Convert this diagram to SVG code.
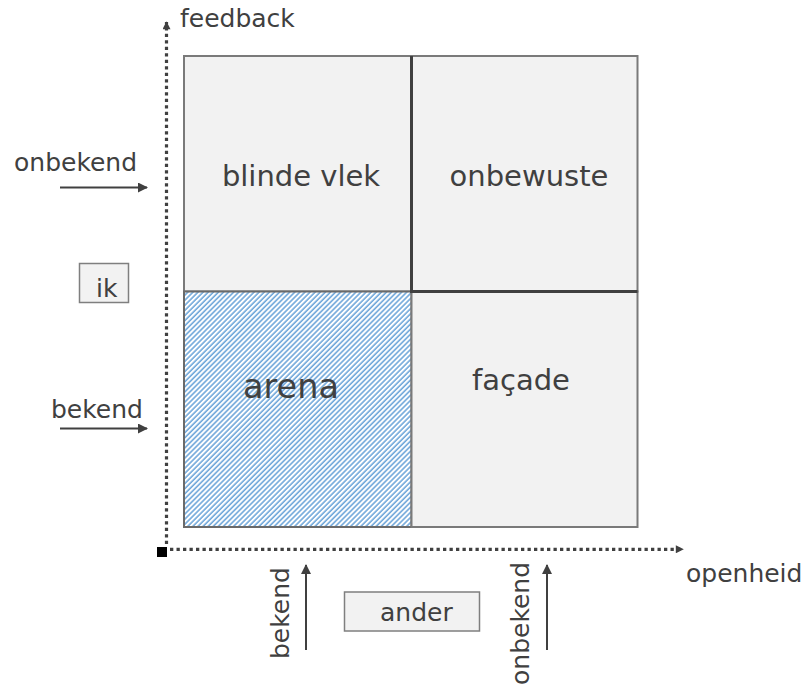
<svg xmlns="http://www.w3.org/2000/svg" width="809" height="688" viewBox="0 0 809 688">
<defs>
<pattern id="hatch" width="3.6" height="3.6" patternUnits="userSpaceOnUse" patternTransform="rotate(45)">
<rect width="3.6" height="3.6" fill="#ffffff"/>
<line x1="1" y1="0" x2="1" y2="3.6" stroke="#5b9bd5" stroke-width="1.4"/>
</pattern>
<marker id="ah" viewBox="0 0 10 10" refX="9" refY="5" markerWidth="10" markerHeight="10" markerUnits="userSpaceOnUse" orient="auto">
<path d="M0,0 L10,5 L0,10 Z" fill="#404040"/>
</marker>
<marker id="ahs" viewBox="0 0 10 10" refX="9" refY="5" markerWidth="9" markerHeight="8" markerUnits="userSpaceOnUse" orient="auto">
<path d="M0,0 L10,5 L0,10 Z" fill="#404040"/>
</marker>
</defs>
<style>
text{font-family:"DejaVu Sans","Liberation Sans",sans-serif;fill:#404040}
.lbl{font-size:25px}
.q{font-size:29px;text-anchor:middle}
.cell{fill:#f2f2f2;stroke:#7a7a7a;stroke-width:2}
.div{stroke:#404040;stroke-width:3}
.box{fill:#f2f2f2;stroke:#7f7f7f;stroke-width:1.5}
.axis{stroke:#404040;stroke-width:3.2;stroke-dasharray:3.3 3.2;fill:none}
.arr{stroke:#404040;stroke-width:2;fill:none}
</style>

<g id="quadrant-blinde-vlek">
<rect class="cell" x="184" y="56" width="227.5" height="235.5"/>
<text class="q" x="301" y="186">blinde vlek</text>
</g>
<g id="quadrant-onbewuste">
<rect class="cell" x="411.5" y="56" width="226" height="235.5"/>
<text class="q" x="529" y="186">onbewuste</text>
</g>
<g id="quadrant-arena">
<rect x="184" y="291.5" width="227.5" height="235.5" fill="url(#hatch)" stroke="#6a6a6a" stroke-width="2"/>
<text x="291" y="398" style="font-size:33.5px;text-anchor:middle">arena</text>
</g>
<g id="quadrant-facade">
<rect class="cell" x="411.5" y="291.5" width="226" height="235.5"/>
<text class="q" x="521" y="390">façade</text>
</g>

<g id="dividers">
<line class="div" x1="411.5" y1="56" x2="411.5" y2="293"/>
<line class="div" x1="410" y1="291.5" x2="637.5" y2="291.5"/>
</g>

<g id="ik">
<rect class="box" x="79.5" y="263.5" width="49" height="39"/>
<text class="lbl" x="96" y="297">ik</text>
</g>
<g id="ander">
<rect class="box" x="344.5" y="592" width="135" height="39"/>
<text class="lbl" x="380" y="621">ander</text>
</g>

<g id="labels">
<text class="lbl" x="180" y="27">feedback</text>
<text class="lbl" x="14" y="171">onbekend</text>
<text class="lbl" x="51" y="418">bekend</text>
<text class="lbl" x="686" y="582">openheid</text>
<text class="lbl" transform="translate(289,659) rotate(-90)">bekend</text>
<text class="lbl" transform="translate(529,685) rotate(-90)">onbekend</text>
</g>

<g id="connectors">
<rect x="157" y="547" width="10" height="10" fill="#000000"/>
<line class="axis" x1="166.5" y1="544" x2="166.5" y2="22" marker-end="url(#ahs)"/>
<line class="axis" x1="170" y1="549.3" x2="683" y2="549.3" marker-end="url(#ahs)"/>
<line class="arr" x1="60" y1="187.5" x2="147" y2="187.5" marker-end="url(#ah)"/>
<line class="arr" x1="60" y1="428.5" x2="147" y2="428.5" marker-end="url(#ah)"/>
<line class="arr" x1="306" y1="650" x2="306" y2="565" marker-end="url(#ah)"/>
<line class="arr" x1="547" y1="650" x2="547" y2="565" marker-end="url(#ah)"/>
</g>
</svg>
